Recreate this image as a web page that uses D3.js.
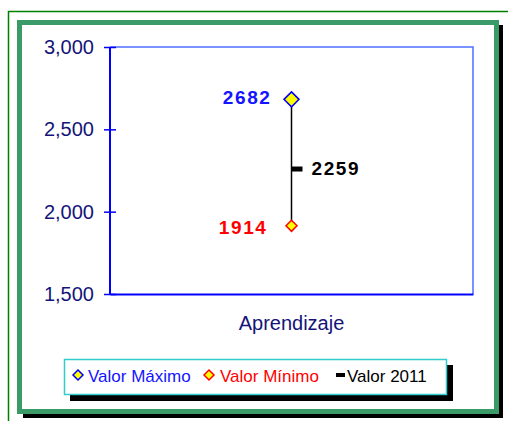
<!DOCTYPE html>
<html>
<head>
<meta charset="utf-8">
<script src="https://cdn.jsdelivr.net/npm/d3@7"></script>
<style>
  body { margin: 0; background: #fff; }
  text { font-family: "Liberation Sans", Arial, sans-serif; }
</style>
</head>
<body>
<div id="chart"></div>
<script>
// data
var categories = ["Aprendizaje"];
var maxValues = [2682];
var minValues = [1914];
var values2011 = [2259];
var yTicks = [1500, 2000, 2500, 3000];
var legendLabels = ["Valor Máximo", "Valor Mínimo", "Valor 2011"];

var W = 508, H = 421;
var plot = { left: 110, right: 473, top: 47, bottom: 294 };

var svg = d3.select("#chart").append("svg")
  .attr("width", W)
  .attr("height", H);

/******** frame ********/
svg.append("path")
  .attr("d", "M8.5," + H + "V11.5H" + W)
  .attr("fill", "none")
  .attr("stroke", "#008000")
  .attr("stroke-width", 1.5);
// shadow of the frame
svg.append("rect")
  .attr("x", 23).attr("y", 25)
  .attr("width", 480).attr("height", 393)
  .attr("fill", "#000");
svg.append("rect")
  .attr("x", 19.5).attr("y", 22.5)
  .attr("width", 477).attr("height", 389)
  .attr("fill", "#fff")
  .attr("stroke", "#3a9a68")
  .attr("stroke-width", 5);

/******** scales ********/
var x = d3.scaleBand().domain(categories).range([plot.left, plot.right]);
var y = d3.scaleLinear().domain([1500, 3000]).range([plot.bottom, plot.top]);

// plot border (top and right)
svg.append("path")
  .attr("d", "M" + plot.left + "," + plot.top + "H" + plot.right + "V" + plot.bottom)
  .attr("fill", "none")
  .attr("stroke", "#4f6fff")
  .attr("stroke-width", 1.5);

/******** axes ********/
var yAxis = d3.axisLeft(y)
  .tickValues(yTicks)
  .tickFormat(d3.format(","))
  .tickSize(6)
  .tickPadding(10);
var gy = svg.append("g")
  .attr("transform", "translate(" + plot.left + ",0)")
  .call(yAxis);
gy.select(".domain").attr("stroke", "#0000ff").attr("stroke-width", 2)
  .attr("d", "M0," + plot.top + "V" + plot.bottom);
gy.selectAll(".tick line").attr("stroke", "#0000ff").attr("stroke-width", 1.5)
  .attr("x1", -6).attr("x2", 6);
gy.selectAll(".tick text")
  .attr("fill", "#141478")
  .style("font-size", "20px")
  .style("font-family", "'Liberation Sans', Arial, sans-serif");

var xAxis = d3.axisBottom(x).tickSize(0).tickPadding(22);
var gx = svg.append("g")
  .attr("transform", "translate(0," + plot.bottom + ")")
  .call(xAxis);
gx.select(".domain").attr("stroke", "#0000ff").attr("stroke-width", 2);
gx.selectAll(".tick text")
  .attr("fill", "#141478")
  .style("font-size", "20px")
  .style("font-family", "'Liberation Sans', Arial, sans-serif");

/******** marks ********/
var cx = function (d, i) { return x(categories[i]) + x.bandwidth() / 2; };

svg.selectAll(".range")
  .data(categories)
  .enter().append("line")
  .attr("x1", cx).attr("x2", cx)
  .attr("y1", function (d, i) { return y(maxValues[i]); })
  .attr("y2", function (d, i) { return y(minValues[i]); })
  .attr("stroke", "#000")
  .attr("stroke-width", 1.5);

svg.selectAll(".val")
  .data(values2011)
  .enter().append("rect")
  .attr("x", function (d, i) { return cx(d, i); })
  .attr("y", function (d) { return y(d) - 2.5; })
  .attr("width", 11).attr("height", 5)
  .attr("fill", "#000");

function diamond(r) {
  return "M0," + (-r) + "L" + r + ",0L0," + r + "L" + (-r) + ",0Z";
}

svg.selectAll(".maxPt")
  .data(maxValues)
  .enter().append("path")
  .attr("transform", function (d, i) { return "translate(" + cx(d, i) + "," + y(d) + ")"; })
  .attr("d", diamond(7.5))
  .attr("fill", "#ffff00")
  .attr("stroke", "#0000ff")
  .attr("stroke-width", 1.5);

svg.selectAll(".minPt")
  .data(minValues)
  .enter().append("path")
  .attr("transform", function (d, i) { return "translate(" + cx(d, i) + "," + y(d) + ")"; })
  .attr("d", diamond(5.5))
  .attr("fill", "#ffff00")
  .attr("stroke", "#ff0000")
  .attr("stroke-width", 1.5);

// value labels
var labelStyle = function (sel) {
  sel.style("font-size", "19px")
    .style("font-weight", "bold")
    .style("letter-spacing", "1.6px")
    .attr("dy", "0.35em");
};
svg.selectAll(".maxLbl")
  .data(maxValues)
  .enter().append("text")
  .attr("x", function (d, i) { return cx(d, i) - 20; })
  .attr("y", function (d) { return y(d) - 2; })
  .attr("text-anchor", "end")
  .attr("fill", "#1414ff")
  .text(function (d) { return d; })
  .call(labelStyle);
svg.selectAll(".minLbl")
  .data(minValues)
  .enter().append("text")
  .attr("x", function (d, i) { return cx(d, i) - 24; })
  .attr("y", function (d) { return y(d) + 2; })
  .attr("text-anchor", "end")
  .attr("fill", "#ff0000")
  .text(function (d) { return d; })
  .call(labelStyle);
svg.selectAll(".valLbl")
  .data(values2011)
  .enter().append("text")
  .attr("x", function (d, i) { return cx(d, i) + 20; })
  .attr("y", function (d) { return y(d) - 1; })
  .attr("fill", "#000")
  .text(function (d) { return d; })
  .call(labelStyle);

/******** legend ********/
var lg = svg.append("g");
lg.append("rect")
  .attr("x", 70).attr("y", 365)
  .attr("width", 383).attr("height", 36)
  .attr("fill", "#000");
lg.append("rect")
  .attr("x", 64.5).attr("y", 359.5)
  .attr("width", 382).attr("height", 35)
  .attr("fill", "#fff")
  .attr("stroke", "#33cccc")
  .attr("stroke-width", 1.5);

var legendItems = [
  { sym: "diamond", stroke: "#0000ff", color: "#1414ff", sx: 78, tx: 88 },
  { sym: "diamond", stroke: "#ff0000", color: "#ff0000", sx: 209, tx: 220 },
  { sym: "dash", stroke: "#000", color: "#000", sx: 336, tx: 347 }
];
var ly = 377;
legendItems.forEach(function (it, i) {
  if (it.sym == "diamond") {
    lg.append("path")
      .attr("transform", "translate(" + it.sx + "," + (ly - 2) + ")")
      .attr("d", diamond(5))
      .attr("fill", "#ffff00")
      .attr("stroke", it.stroke)
      .attr("stroke-width", 1.5);
  } else {
    lg.append("rect")
      .attr("x", it.sx).attr("y", ly - 4)
      .attr("width", 9).attr("height", 4)
      .attr("fill", "#000");
  }
  lg.append("text")
    .attr("x", it.tx).attr("y", ly)
    .attr("dy", "0.3em")
    .attr("fill", it.color)
    .style("font-size", "17px")
    .text(legendLabels[i]);
});
</script>
</body>
</html>
